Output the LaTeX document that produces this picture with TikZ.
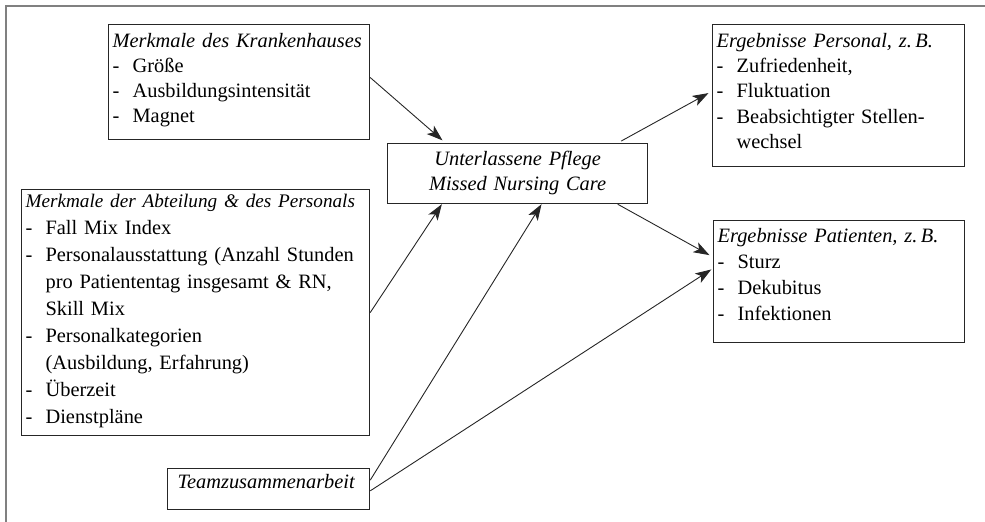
\documentclass[tikz,border=0pt]{standalone}
\usepackage{fontspec}
\setmainfont{Liberation Serif}
\usetikzlibrary{arrows.meta}

\begin{document}
\begin{tikzpicture}[x=0.5pt,y=-0.5pt]

% Define styles
\tikzstyle{factor}=[draw=black!85, line width=0.6pt, anchor=north west, align=left, inner xsep=2pt, inner ysep=0pt, font={\fontsize{10.2}{12.5}\selectfont}]
\tikzstyle{effect}=[-{Stealth[length=8pt,width=5.5pt,inset=2pt]}, line width=0.45pt, black!85]
\tikzstyle{frame}=[line width=1pt, black!50]

% Parameters
\def\itm{\makebox[10pt][l]{-}}
\def\cnt{\hspace*{10pt}}

\useasboundingbox (0,0) rectangle (985,522);

% Frame
\draw[frame] (985,6) -- (6,6) -- (6,522);

% Boxes
\node[factor, text width=126.5pt, text height=11.5pt, text depth=46pt] (haus) at (108,24)
  {\textit{Merkmale des Krankenhauses}\\ \itm Größe\\ \itm Ausbildungsintensität\\ \itm Magnet};

\node[factor, text width=170pt, text height=9pt, text depth=114pt, font={\fontsize{10.2}{13.5}\selectfont}] (abt) at (21,189)
  {\mbox{\fontsize{9.6}{13.5}\selectfont\textit{Merkmale der Abteilung \& des Personals}}\\
   \itm Fall Mix Index\\
   \itm Personalausstattung (Anzahl Stunden\\
   \cnt pro Patiententag insgesamt \& RN,\\
   \cnt Skill Mix\\
   \itm Personalkategorien\\
   \cnt (Ausbildung, Erfahrung)\\
   \itm Überzeit\\
   \itm Dienstpläne};

\node[factor, text width=97pt, text height=10pt, text depth=10.5pt] (team) at (167,468)
  {\hspace*{3pt}\textit{Teamzusammenarbeit}};

\node[factor, align=center, text width=126pt, text height=11pt, text depth=19pt] (mnc) at (387,143)
  {\textit{Unterlassene Pflege}\\ \textit{Missed Nursing Care}};

\node[factor, text width=122pt, text height=11.5pt, text depth=59.5pt, font={\fontsize{10.2}{12.6}\selectfont}] (pers) at (712,24)
  {\textit{Ergebnisse Personal, z.\,B.}\\ \itm Zufriedenheit,\\ \itm Fluktuation\\ \itm Beabsichtigter Stellen-\\ \cnt wechsel};

\node[factor, text width=121.5pt, text height=11pt, text depth=50pt, font={\fontsize{10.2}{13}\selectfont}] (pat) at (713,220)
  {\textit{Ergebnisse Patienten, z.\,B.}\\ \itm Sturz\\ \itm Dekubitus\\ \itm Infektionen};

% Arrows
\draw[effect, shorten >=2pt] (haus.2) -- (mnc.157);
\draw[effect] (abt.east) -- (mnc.202);
\draw[effect] (team.5) -- (mnc.-52);
\draw[effect, shorten >=1pt] (team.-1) -- (pat.174);
\draw[effect, shorten <=2pt, shorten >=2pt] (mnc.17) -- (pers.178);
\draw[effect, shorten >=2pt] (mnc.-17) -- (pat.169);

\end{tikzpicture}
\end{document}
